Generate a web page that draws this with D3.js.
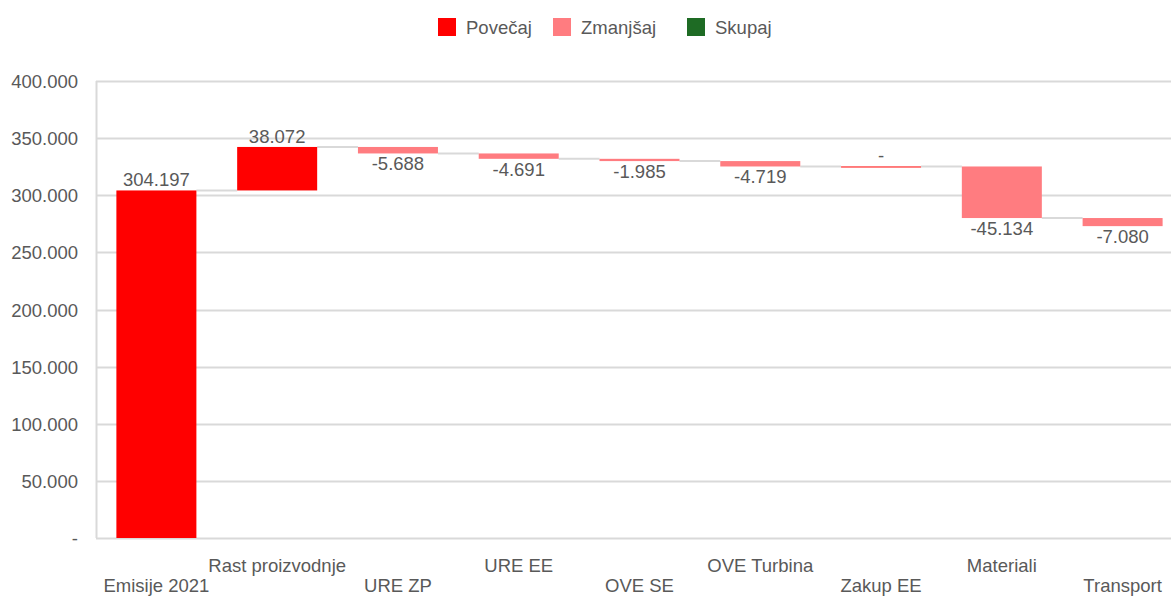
<!DOCTYPE html>
<html>
<head>
<meta charset="utf-8">
<script src="https://cdn.jsdelivr.net/npm/d3@7"></script>
<style>
  body { margin: 0; background: #fff; overflow: hidden; }
  text { font-family: "Liberation Sans", Arial, sans-serif; }
</style>
</head>
<body>
<svg id="chart" width="1171" height="597"></svg>
<script>
// categories and changes (first one is the starting total)
var categories = ["Emisije 2021", "Rast proizvodnje", "URE ZP", "URE EE", "OVE SE", "OVE Turbina", "Zakup EE", "Materiali", "Transport"];
var changes = [304197, 38072, -5688, -4691, -1985, -4719, 0, -45134, -7080];
var yTicks = [0, 50000, 100000, 150000, 200000, 250000, 300000, 350000, 400000];
var legendItems = ["Povečaj", "Zmanjšaj", "Skupaj"];
var legendColors = ["#ff0000", "#ff7c80", "#1e6b24"];

var textColor = "#595959";
var gridColor = "#d9d9d9";
var fontSize = "18.5px";

var svg = d3.select("#chart");

var x = d3.scaleBand()
    .domain(categories)
    .range([96, 1183])
    .paddingInner(0.3376)
    .paddingOuter(0.1688);

var y = d3.scaleLinear()
    .domain([0, 400000])
    .range([538, 81]);

//format like 304.197, zero shown as a dash
var fmt = function (v) {
    if (v === 0) return "-";
    var s = d3.format(",")(v);
    return s.replace(/,/g, ".").replace("\u2212", "-");
};

// build start/end for each step
var rows = [];
var running = 0;
changes.forEach(function (c, i) {
    var start = i === 0 ? 0 : running;
    var end = i === 0 ? c : running + c;
    rows.push({ cat: categories[i], value: c, start: start, end: end, total: i === 0 });
    running = end;
});

// gridlines
svg.append("g")
    .selectAll("line")
    .data(yTicks.slice(1))
    .join("line")
    .attr("x1", 96)
    .attr("x2", 1171)
    .attr("y1", function (d) { return Math.round(y(d)) + 0.5; })
    .attr("y2", function (d) { return Math.round(y(d)) + 0.5; })
    .attr("stroke", gridColor)
    .attr("stroke-width", 2);

// y axis line and baseline
svg.append("line")
    .attr("x1", 96.5).attr("x2", 96.5)
    .attr("y1", y(400000)).attr("y2", y(0))
    .attr("stroke", gridColor).attr("stroke-width", 2);
svg.append("line")
    .attr("x1", 96).attr("x2", 1171)
    .attr("y1", y(0) + 0.5).attr("y2", y(0) + 0.5)
    .attr("stroke", gridColor).attr("stroke-width", 2);

// y tick labels
svg.append("g")
    .selectAll("text")
    .data(yTicks)
    .join("text")
    .attr("x", 78)
    .attr("y", function (d) { return y(d) + 7; })
    .attr("text-anchor", "end")
    .attr("font-size", fontSize)
    .attr("fill", textColor)
    .text(function (d) { return fmt(d); });

// connectors
svg.append("g")
    .selectAll("line")
    .data(rows.slice(0, -1))
    .join("line")
    .attr("x1", function (d) { return x(d.cat) + x.bandwidth(); })
    .attr("x2", function (d, i) { return x(categories[i + 1]); })
    .attr("y1", function (d) { return y(d.end); })
    .attr("y2", function (d) { return y(d.end); })
    .attr("stroke", gridColor)
    .attr("stroke-width", 2);

// bars
svg.append("g")
    .selectAll("rect")
    .data(rows)
    .join("rect")
    .attr("x", function (d) { return x(d.cat); })
    .attr("width", x.bandwidth())
    .attr("y", function (d) { return y(Math.max(d.start, d.end)); })
    .attr("height", function (d) { return Math.max(1, Math.abs(y(d.start) - y(d.end))); })
    .attr("fill", function (d) {
        if (d.value >= 0) return legendColors[0];
        return legendColors[1];
    });

// value labels
svg.append("g")
    .selectAll("text")
    .data(rows)
    .join("text")
    .attr("x", function (d) { return x(d.cat) + x.bandwidth() / 2; })
    .attr("y", function (d) {
        if (d.value >= 0) return y(Math.max(d.start, d.end)) - 4;
        return y(Math.min(d.start, d.end)) + 17;
    })
    .attr("text-anchor", "middle")
    .attr("font-size", fontSize)
    .attr("fill", textColor)
    .text(function (d) { return fmt(d.value); });

// category labels, staggered
svg.append("g")
    .selectAll("text")
    .data(categories)
    .join("text")
    .attr("x", function (d) { return x(d) + x.bandwidth() / 2; })
    .attr("y", function (d, i) { return i % 2 === 0 ? 592 : 572; })
    .attr("text-anchor", "middle")
    .attr("font-size", fontSize)
    .attr("fill", textColor)
    .text(function (d) { return d; });

// legend
var legendX = [438, 553, 687];
var legend = svg.append("g");
legendItems.forEach(function (name, i) {
    legend.append("rect")
        .attr("x", legendX[i])
        .attr("y", 18)
        .attr("width", 18)
        .attr("height", 18)
        .attr("fill", legendColors[i]);
    legend.append("text")
        .attr("x", legendX[i] + 28)
        .attr("y", 34)
        .attr("font-size", fontSize)
        .attr("fill", textColor)
        .text(name);
});
</script>
</body>
</html>
